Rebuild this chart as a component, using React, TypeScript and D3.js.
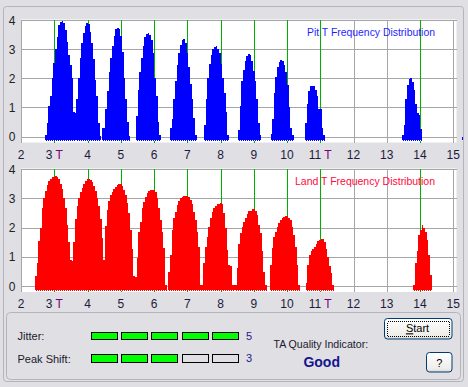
import React from 'react';
import * as d3 from 'd3';

// axis values
const T_TICKS = [2, 3, 4, 5, 6, 7, 8, 9, 10, 11, 12, 13, 14, 15];
const T_LABELS = ['2', '3', '4', '5', '6', '7', '8', '9', '10', '11', '12', '13', '14', '15'];
const T_WITH_UNIT = [3, 11];
const T_MARKS = [3, 4, 5, 6, 7, 8, 9, 10, 11, 14];
const Y_TICKS = [0, 1, 2, 3, 4];
const BIN = 0.05;

// Pit histogram: start of each peak (in T) and bin heights
const pitStarts = [2.72, 3.666, 4.436, 5.459, 6.481, 7.504, 8.526, 9.504, 10.541, 13.459, 15.25];
const pitCounts = [
  [0.05, 0.47, 1.04, 1.4, 2.0, 2.52, 3.0, 3.41, 3.83, 3.94, 3.97, 3.9, 3.65, 3.25, 2.8, 2.45, 2.0, 0.85, 0.8],
  [1.3, 2.0, 2.7, 3.2, 3.55, 3.8, 3.88, 3.85, 3.6, 3.2, 2.65, 1.95, 1.4, 0.45, 0.03],
  [0.3, 0.3, 0.95, 1.55, 2.2, 2.7, 3.1, 3.45, 3.68, 3.72, 3.7, 3.45, 2.9, 2.0, 1.3, 0.5, 0.03],
  [0.72, 1.6, 2.2, 2.7, 3.1, 3.4, 3.52, 3.55, 3.5, 3.3, 2.85, 2.0, 1.4, 0.5, 0.05],
  [0.3, 0.6, 1.3, 1.9, 2.45, 2.85, 3.15, 3.33, 3.35, 3.2, 2.85, 2.4, 1.8, 1.3, 0.62, 0.05],
  [0.4, 1.3, 2.0, 2.5, 2.8, 3.0, 3.08, 3.1, 3.0, 2.85, 2.5, 2.0, 1.5, 0.85, 0.05],
  [0.22, 1.05, 1.9, 2.3, 2.6, 2.75, 2.82, 2.8, 2.6, 2.25, 1.9, 1.3, 0.45, 0.05],
  [0.1, 0.6, 1.5, 2.05, 2.4, 2.57, 2.63, 2.6, 2.45, 2.2, 1.77, 1.0, 0.3, 0.05],
  [0.45, 1.1, 1.55, 1.72, 1.75, 1.72, 1.6, 1.4, 0.95, 0.93, 0.3, 0.05],
  [0.05, 0.4, 1.3, 1.77, 1.97, 2.0, 1.88, 1.6, 1.13, 0.8, 0.75, 0.25],
  [0],
];

// Land histogram
const landStarts = [2.421, 3.573, 4.526, 5.429, 6.43, 7.435, 8.436, 9.489, 10.562, 13.8];
const landCounts = [
  [0.34, 0.8, 1.55, 2.0, 2.65, 3.0, 3.25, 3.45, 3.58, 3.66, 3.71, 3.74, 3.75, 3.73, 3.65, 3.5, 3.3, 3.02, 2.65, 2.1, 1.52, 0.88, 0.85],
  [1.52, 2.3, 2.75, 3.0, 3.2, 3.35, 3.5, 3.6, 3.65, 3.66, 3.62, 3.55, 3.42, 3.25, 3.02, 2.72, 2.3, 1.65, 0.9],
  [2.05, 2.6, 2.9, 3.1, 3.22, 3.32, 3.4, 3.45, 3.48, 3.48, 3.42, 3.28, 3.1, 2.85, 2.5, 1.9, 1.25, 0.33],
  [0.32, 0.95, 1.86, 2.2, 2.66, 2.88, 3.05, 3.17, 3.25, 3.28, 3.28, 3.27, 3.2, 3.0, 2.66, 2.26, 1.86, 1.29, 0.05],
  [0.49, 1.06, 1.91, 2.31, 2.54, 2.77, 2.91, 3.0, 3.05, 3.07, 3.09, 3.08, 3.04, 2.95, 2.8, 2.54, 2.26, 1.86, 1.34, 0.05],
  [0.03, 0.77, 1.34, 1.69, 2.03, 2.31, 2.54, 2.66, 2.75, 2.8, 2.82, 2.84, 2.8, 2.5, 1.97, 1.23, 0.72, 0.7, 0.03, 0.03],
  [0.05, 0.6, 1.43, 1.81, 2.03, 2.2, 2.32, 2.46, 2.55, 2.58, 2.63, 2.62, 2.55, 2.43, 2.09, 1.81, 1.18, 0.49, 0.03],
  [0.72, 1.29, 1.69, 1.86, 2.03, 2.15, 2.26, 2.32, 2.35, 2.38, 2.38, 2.34, 2.26, 2.03, 1.75, 1.35, 0.72, 0.05],
  [0.09, 0.72, 1.06, 1.2, 1.27, 1.33, 1.42, 1.55, 1.58, 1.61, 1.6, 1.52, 1.25, 1.0, 0.7, 0.45, 0.05],
  [0.05, 0.78, 1.18, 1.75, 1.9, 2.07, 2.0, 1.86, 1.58, 1.06, 0.38],
];

// quality panel
const SEGMENTS = [0, 1, 2, 3, 4];
const jitterLevel = 5;
const peakShiftLevel = 3;
const qualityText = 'Good';

const FONT = '"Liberation Sans", Arial, sans-serif';
const BG = '#E0DFE3';
const FRAME = '#B4B4BC';
const GRID = '#A6A6A6';
const GREEN = '#00B000';

const x = d3.scaleLinear().domain([2, 15]).range([21, 453.25]);
const yPit = d3.scaleLinear().domain([0, 4]).range([136.5, 20]);
const yLand = d3.scaleLinear().domain([0, 4]).range([286, 169]);

function Histogram({ y, starts, counts, color, title, titleColor, titleY, titleWidth }) {
  const top = y(4);
  const zero = y(0);
  const base = zero + 4.5;
  const bottom = zero + 6;
  const left = x(2);
  const right = 456.5;

  const area = d3.area()
    .x(d => x(d[0]))
    .y0(base)
    .y1(d => y(d[1]))
    .curve(d3.curveStepAfter);

  return (
    <g>
      <rect x={left} y={top - 0.5} width={right - left} height={bottom - top + 0.5} fill="#fff" />
      {Y_TICKS.map(t => (
        <line key={'h' + t} x1={left} x2={right} y1={Math.round(y(t)) + 0.5} y2={Math.round(y(t)) + 0.5}
          stroke={GRID} shapeRendering="crispEdges" />
      ))}
      {T_TICKS.map(t => (
        <line key={'v' + t} x1={Math.round(x(t)) + 0.5} x2={Math.round(x(t)) + 0.5} y1={top} y2={bottom}
          stroke={GRID} shapeRendering="crispEdges" />
      ))}
      {T_MARKS.map(t => (
        <line key={'g' + t} x1={Math.round(x(t)) + 0.5} x2={Math.round(x(t)) + 0.5} y1={top} y2={bottom}
          stroke={GREEN} shapeRendering="crispEdges" />
      ))}
      {counts.map((vals, i) => {
        const pts = vals.map((v, j) => [starts[i] + j * BIN, v]);
        pts.push([starts[i] + vals.length * BIN, vals[vals.length - 1]]);
        return (
          <g key={'p' + i}>
            <path d={area(pts)} fill={color} shapeRendering="crispEdges" />
            <line x1={x(starts[i])} x2={x(starts[i] + vals.length * BIN)} y1={base - 0.5} y2={base - 0.5}
              stroke="#fff" strokeDasharray="1 1" shapeRendering="crispEdges" />
          </g>
        );
      })}
      <text x={435} y={titleY} textAnchor="end" fill={titleColor} fontFamily={FONT} fontSize={11}
        textLength={titleWidth} lengthAdjust="spacingAndGlyphs">{title}</text>
      {Y_TICKS.map(t => (
        <text key={'yl' + t} x={15.5} y={y(t) + 4.5} textAnchor="end" fill="#222" fontFamily={FONT} fontSize={12}>{t}</text>
      ))}
      {T_TICKS.map((t, i) => (
        <text key={'xl' + t} x={x(t)} y={bottom + 16} textAnchor="middle" fill="#1c1c3c" fontFamily={FONT} fontSize={12}>
          {T_LABELS[i]}
          {T_WITH_UNIT.includes(t) ? <tspan fill="#7a007a"> T</tspan> : null}
        </text>
      ))}
    </g>
  );
}

function Meter({ y, level }) {
  const band = d3.scaleBand().domain(SEGMENTS).range([91, 239]).paddingInner(0.1);
  return (
    <g>
      {SEGMENTS.map(s => (
        <rect key={s} x={Math.round(band(s)) + 0.5} y={y} width={Math.round(band.bandwidth()) - 1} height={7.5}
          fill={s < level ? '#00FF00' : BG} stroke="#000" shapeRendering="crispEdges" />
      ))}
    </g>
  );
}

export default function App() {
  return (
    <svg width={468} height={387} style={{ position: 'absolute', left: 0, top: 0, display: 'block' }}>
      <defs>
        <linearGradient id="btn" x1="0" y1="0" x2="0" y2="1">
          <stop offset="0" stopColor="#FFFFFF" />
          <stop offset="0.85" stopColor="#EEEDE8" />
          <stop offset="1" stopColor="#D6D3CC" />
        </linearGradient>
      </defs>
      <rect width={468} height={387} fill={BG} />
      <rect x={3.5} y={6.5} width={460} height={375} rx={3} fill="none" stroke={FRAME} />

      <Histogram y={yPit} starts={pitStarts} counts={pitCounts} color="#0000FF"
        title="Pit T Frequency Distribution" titleColor="#1F1FFF" titleY={35.5} titleWidth={128} />
      <Histogram y={yLand} starts={landStarts} counts={landCounts} color="#FF0000"
        title="Land T Frequency Distribution" titleColor="#FF0A3C" titleY={184.5} titleWidth={140} />

      <rect x={6.5} y={312.5} width={454} height={67} rx={4} fill="none" stroke={FRAME} />
      <text x={17.5} y={339.5} fill="#1a1a2e" fontFamily={FONT} fontSize={11}>Jitter:</text>
      <text x={17.5} y={362.5} fill="#1a1a2e" fontFamily={FONT} fontSize={11}>Peak Shift:</text>
      <Meter y={332} level={jitterLevel} />
      <Meter y={354.5} level={peakShiftLevel} />
      <text x={246} y={339.5} fill="#20208a" fontFamily={FONT} fontSize={11}>{jitterLevel}</text>
      <text x={246} y={362} fill="#20208a" fontFamily={FONT} fontSize={11}>{peakShiftLevel}</text>

      <text x={273.5} y={347.7} fill="#1a1a2e" fontFamily={FONT} fontSize={10.6}>TA Quality Indicator:</text>
      <text x={321.7} y={367.3} textAnchor="middle" fill="#14148C" fontFamily={FONT} fontSize={14} fontWeight="bold">{qualityText}</text>

      <rect x={384.5} y={318.5} width={67.5} height={20.5} rx={3} fill="url(#btn)" stroke="#003C74" />
      <rect x={387.5} y={321.5} width={61.5} height={14.5} fill="none" stroke="#000" strokeDasharray="1 1" shapeRendering="crispEdges" />
      <text x={417.5} y={332.3} textAnchor="middle" fill="#000" fontFamily={FONT} fontSize={11}>
        <tspan textDecoration="underline">S</tspan>tart
      </text>

      <rect x={426.5} y={352.5} width={25.5} height={19.5} rx={3} fill="url(#btn)" stroke="#003C74" />
      <text x={439.2} y={366.7} textAnchor="middle" fill="#000" fontFamily={FONT} fontSize={11}>?</text>
    </svg>
  );
}
